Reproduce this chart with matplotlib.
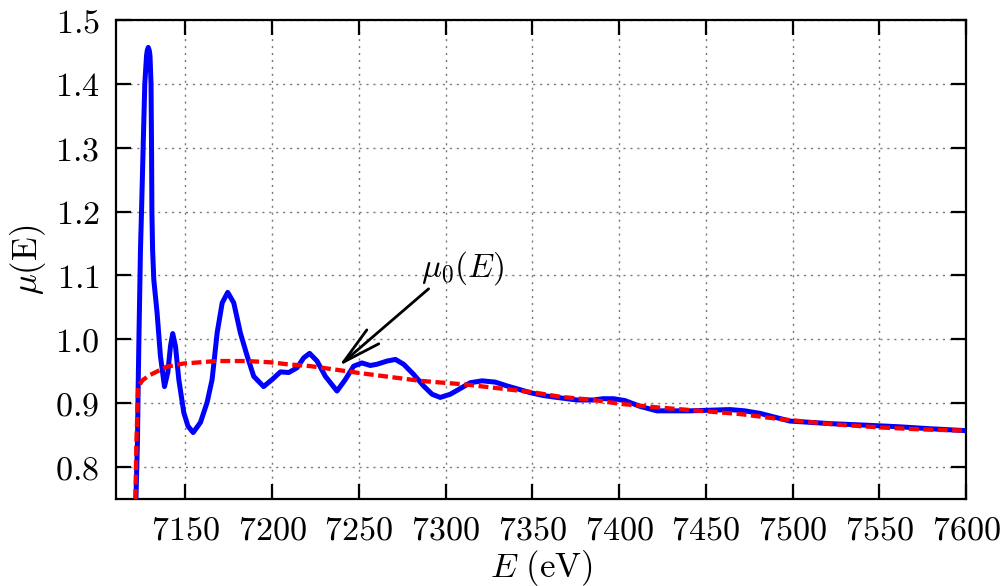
import matplotlib
matplotlib.use("Agg")
import matplotlib.pyplot as plt
from matplotlib.ticker import FixedLocator, FuncFormatter

plt.rcParams['mathtext.fontset'] = 'cm'
plt.rcParams['font.family'] = ['DejaVu Serif']

# blue: measured mu(E)
mu_E = [7121.5, 7122.4, 7122.8, 7123.3, 7124.1, 7124.7, 7125.9, 7126.6, 7127.6, 7128.0,
        7128.6, 7129.2, 7129.6, 7130.2, 7130.5, 7130.7, 7131.1, 7131.8, 7133.7, 7135.6,
        7137.95, 7139.85, 7141.4, 7142.7, 7144.3, 7146.2, 7149.1, 7151.5, 7154.5, 7158.7,
        7162.5, 7165.4, 7168.3, 7171.2, 7174.4, 7177.9, 7181.7, 7185.6, 7189.4, 7195.1,
        7200.0, 7204.8, 7209.6, 7214.4, 7218.2, 7221.6, 7225.9, 7230.7, 7237.4, 7242.2,
        7247.0, 7251.8, 7256.6, 7260.5, 7266.3, 7271.1, 7275.8, 7281.6, 7287.3, 7292.2,
        7296.9, 7302.7, 7308.5, 7314.2, 7321.0, 7328.6, 7335.4, 7341.9, 7348.8, 7356.3,
        7364.2, 7375.7, 7385.2, 7390.8, 7396.8, 7403.5, 7412.1, 7421.8, 7429.4, 7440.9,
        7452.4, 7463.9, 7472.5, 7481.3, 7489.9, 7498.5, 7510.1, 7521.6, 7542.7, 7561.9,
        7579.2, 7600.0]
mu_val = [0.750, 0.844, 0.930, 1.015, 1.140, 1.199, 1.327, 1.400, 1.444, 1.452,
          1.457, 1.452, 1.444, 1.400, 1.296, 1.199, 1.140, 1.093, 1.041, 0.974,
          0.926, 0.948, 0.989, 1.009, 0.989, 0.937, 0.885, 0.864, 0.854, 0.870,
          0.901, 0.937, 1.010, 1.057, 1.0735, 1.057, 1.010, 0.974, 0.942, 0.926,
          0.937, 0.949, 0.948, 0.9555, 0.971, 0.978, 0.966, 0.942, 0.919, 0.937,
          0.958, 0.963, 0.959, 0.961, 0.966, 0.9685, 0.961, 0.945, 0.927, 0.914,
          0.909, 0.914, 0.923, 0.932, 0.935, 0.933, 0.927, 0.922, 0.9165, 0.912,
          0.909, 0.905, 0.905, 0.907, 0.907, 0.904, 0.895, 0.888, 0.888, 0.888,
          0.889, 0.890, 0.888, 0.884, 0.878, 0.872, 0.870, 0.868, 0.8655, 0.863,
          0.860, 0.857]

# red dashed: background mu0(E)
mu0_E = [7121.2, 7121.8, 7122.8, 7125.3, 7129.5, 7139.1, 7148.7, 7167.9, 7185.6, 7199.0,
         7208.6, 7222.1, 7235.3, 7250.9, 7268.1, 7285.4, 7312.3, 7331.5, 7350.5, 7366.1,
         7385.0, 7400.6, 7423.7, 7446.7, 7469.7, 7492.8, 7523.3, 7550.4, 7573.4, 7600.0]
mu0_val = [0.750, 0.844, 0.926, 0.936, 0.944, 0.957, 0.962, 0.966, 0.966, 0.964,
           0.961, 0.958, 0.953, 0.947, 0.941, 0.935, 0.929, 0.923, 0.917, 0.910,
           0.905, 0.899, 0.893, 0.888, 0.883, 0.875, 0.867, 0.862, 0.859, 0.857]

x_ticks = [7150, 7200, 7250, 7300, 7350, 7400, 7450, 7500, 7550, 7600]
y_ticks = [0.8, 0.9, 1.0, 1.1, 1.2, 1.3, 1.4, 1.5]

fig = plt.figure(figsize=(10, 5.86), dpi=100)
ax = fig.add_axes([0.116, 0.1485, 0.85, 0.8174])

ax.plot(mu_E, mu_val, color='#0000ff', lw=3.6, solid_joinstyle='round',
        solid_capstyle='round', zorder=3)
ax.plot(mu0_E, mu0_val, color='#ff0000', lw=3.1, dashes=(2.3, 1.05), zorder=4)

ax.set_xlim(7110, 7600)
ax.set_ylim(0.75, 1.5)
ax.xaxis.set_major_locator(FixedLocator(x_ticks))
ax.yaxis.set_major_locator(FixedLocator(y_ticks))
ax.xaxis.set_major_formatter(FuncFormatter(lambda v, p: r'$%d$' % v))
ax.yaxis.set_major_formatter(FuncFormatter(lambda v, p: r'$%.1f$' % v))

ax.grid(True, color='#777777', lw=1.0, linestyle=(0, (1.5, 3.5)))
ax.tick_params(direction='in', length=11, width=1.6, top=True, right=True,
               labelsize=24.5)
ax.tick_params(axis='x', pad=11)
ax.tick_params(axis='y', pad=12)
for s in ax.spines.values():
    s.set_linewidth(1.6)

ax.set_xlabel(r'$E\ (\mathrm{eV})$', fontsize=25, labelpad=1)
ax.set_ylabel(r'$\mu(\mathrm{E})$', fontsize=25, labelpad=5)

ax.annotate('', xy=(7238.4, 0.958), xytext=(7290.2, 1.079),
            arrowprops=dict(arrowstyle='->,head_length=1.4,head_width=0.33',
                            lw=2.0, color='black', mutation_scale=20,
                            shrinkA=0, shrinkB=0), zorder=5)
ax.text(7309.6, 1.112, r'$\mu_0(E)$', fontsize=24, ha='center', va='center', zorder=5)

fig.savefig('out.png', dpi=100)
